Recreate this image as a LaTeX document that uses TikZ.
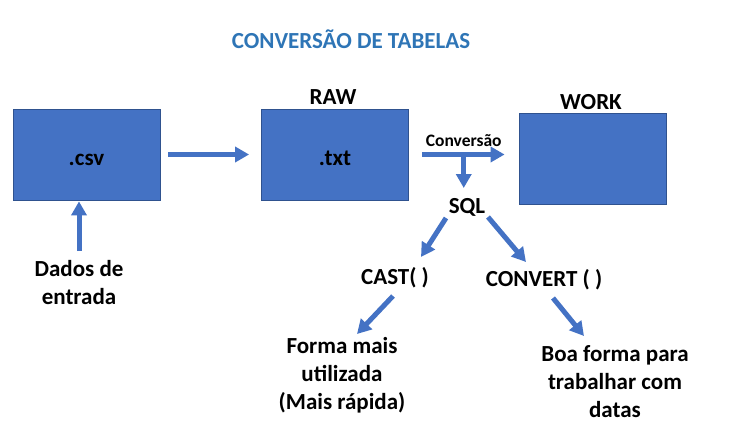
\documentclass[tikz,border=0pt]{standalone}
\usepackage{fontspec}
\setmainfont{Carlito}
\usetikzlibrary{arrows.meta}
\definecolor{boxblue}{HTML}{4472C4}
\definecolor{boxedge}{HTML}{2F528F}
\definecolor{titleblue}{HTML}{2E75B6}

\begin{document}
\begin{tikzpicture}[x=1pt,y=-1pt,
  caixa/.style={draw=boxedge, fill=boxblue, line width=0.8pt, minimum width=147pt, minimum height=91pt, inner sep=0pt, text height=21pt, text depth=0pt, font=\bfseries\fontsize{23}{27}\selectfont},
  rotulo/.style={font=\bfseries\fontsize{23}{28}\selectfont, align=center, inner sep=1pt, text=black},
  seta/.style={boxblue, line width=5pt, -{Triangle[length=14pt,width=15pt]}}]

\useasboundingbox (0,0) rectangle (732,437);

\node[rotulo, text=titleblue] (titulo) at (351,39) {CONVERSÃO DE TABELAS};

% caixas
\node[caixa] (csv) at (86.5,154.5) {.csv};
\node[caixa] (txt) at (335,154.5) {.txt};
\node[caixa] (work) at (592.5,158.5) {};
\node[rotulo] (raw) at (333,97) {RAW};
\node[rotulo] (worklab) at (591,102) {WORK};

% textos
\node[rotulo] (dados) at (79,283) {Dados de\\entrada};
\node[rotulo] (sql) at (467,207) {SQL};
\node[rotulo] (cast) at (395,278) {CAST( )};
\node[rotulo] (convert) at (544,280) {CONVERT ( )};
\node[rotulo] (forma) at (342,375) {Forma mais\\utilizada\\(Mais rápida)};
\node[rotulo] (boa) at (615,382) {Boa forma para\\trabalhar com\\datas};

% setas
\draw[seta, shorten <=8pt, shorten >=12pt] (csv.east) -- (txt.west);
\draw[seta, shorten >=1pt] ([shift={(0,-32)}]dados.center) -- (dados.center |- csv.south);
\draw[seta, shorten <=13pt, shorten >=14pt] (txt.east) -- (txt.east -| work.west)
  node[midway, above=4pt, font=\bfseries\fontsize{17.5}{21}\selectfont, inner sep=1pt, text=black] (conv) {Conversão}
  coordinate[midway] (ramo);
\draw[seta] (ramo) -- ([yshift=19pt]ramo |- sql.center);
\draw[seta] ([shift={(-21,11)}]sql.center) -- ([shift={(26,-21)}]cast.center);
\draw[seta] ([shift={(21,10)}]sql.center) -- ([shift={(-18,-18)}]convert.center);
\draw[seta] ([shift={(-2,18)}]cast.center) -- ([shift={(15,-41)}]forma.center);
\draw[seta] ([shift={(9,18)}]convert.center) -- ([shift={(-31,-46)}]boa.center);
\end{tikzpicture}
\end{document}
